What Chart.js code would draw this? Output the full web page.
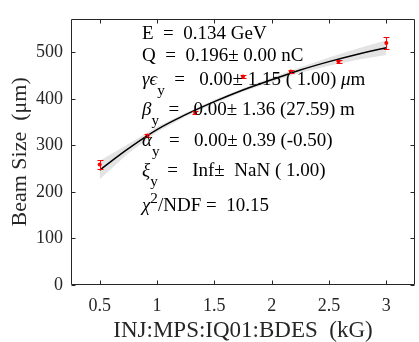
<!DOCTYPE html>
<html>
<head>
<meta charset="utf-8">
<script src="https://cdn.jsdelivr.net/npm/chart.js@4/dist/chart.umd.min.js"></script>
<style>
  html, body { margin: 0; padding: 0; background: #fff; }
</style>
</head>
<body>
<canvas id="quadScan" width="419" height="342"></canvas>
<script>
// measured beam size vs quad setting
const bdes = [0.5, 0.917, 1.333, 1.75, 2.167, 2.583, 3.0];
const beamSize = [259, 321, 370, 448, 459, 481, 520];
const beamErr = [10, 3, 3, 4, 3, 3, 12];

// fit curve and its confidence band
const fitX = [0.5, 0.75, 1.0, 1.25, 1.5, 1.75, 2.0, 2.25, 2.5, 2.75, 3.0];
const fitY = [247, 293, 334, 366, 394, 419, 441, 462, 480, 496, 510];
const bandLo = [227, 283, 328, 362, 390, 415, 436, 456, 471, 484, 494];
const bandHi = [267, 303, 340, 370, 398, 423, 446, 468, 489, 508, 526];

const xTicks = [0.5, 1, 1.5, 2, 2.5, 3];
const yTicks = [0, 100, 200, 300, 400, 500];

// fit results, TeX-ish: _{} subscript, ^{} superscript
const fitText = [
  'E  =  0.134 GeV',
  'Q  =  0.196± 0.00 nC',
  'γϵ_{y}  =   0.00± 1.15 ( 1.00) μm',
  'β_{y}  =   0.00± 1.36 (27.59) m',
  'α_{y}  =   0.00± 0.39 (-0.50)',
  'ξ_{y}  =   Inf±  NaN ( 1.00)',
  'χ^{2}/NDF =  10.15',
];

const SERIF = '"Liberation Serif", "Times New Roman", serif';
const AXIS = '#262626';

const pts = (xs, ys) => xs.map((k, i) => ({ x: k, y: ys[i] }));

// draw one line of the fit box, handling sub/superscripts and greek italics
function drawRich(ctx, str, x, y, size) {
  const re = /([_^])\{([^}]*)\}/g;
  const parts = [];
  let last = 0, m;
  while ((m = re.exec(str))) {
    if (m.index > last) parts.push({ t: str.slice(last, m.index), s: 0 });
    parts.push({ t: m[2], s: m[1] === '_' ? 1 : -1 });
    last = re.lastIndex;
  }
  if (last < str.length) parts.push({ t: str.slice(last), s: 0 });
  parts.forEach(p => {
    const sz = p.s ? size * 0.8 : size;
    const dy = p.s === 1 ? size * 0.5 : p.s === -1 ? -size * 0.42 : 0;
    for (const ch of p.t) {
      const greek = /[\u0370-\u03ff]/.test(ch);
      ctx.font = (greek ? 'italic ' : '') + sz + 'px ' + SERIF;
      ctx.fillText(ch, x, y + dy);
      x += ctx.measureText(ch).width;
    }
  });
}

const errorBars = {
  id: 'errorBars',
  afterDatasetsDraw(chart) {
    const { ctx, scales: { x, y } } = chart;
    ctx.save();
    ctx.strokeStyle = '#ff0000';
    ctx.lineWidth = 1;
    bdes.forEach((k, i) => {
      const px = Math.round(x.getPixelForValue(k)) + 0.5;
      const top = Math.round(y.getPixelForValue(beamSize[i] + beamErr[i])) + 0.5;
      const bot = Math.round(y.getPixelForValue(beamSize[i] - beamErr[i])) + 0.5;
      ctx.beginPath();
      ctx.moveTo(px, top); ctx.lineTo(px, bot);
      ctx.moveTo(px - 3, top); ctx.lineTo(px + 3, top);
      ctx.moveTo(px - 3, bot); ctx.lineTo(px + 3, bot);
      ctx.stroke();
    });
    ctx.restore();
  }
};

// matlab style box with inward ticks, plus the fit text
const boxAndText = {
  id: 'boxAndText',
  afterDraw(chart) {
    const { ctx, chartArea: a, scales: { x, y } } = chart;
    ctx.save();
    ctx.strokeStyle = AXIS;
    ctx.lineWidth = 1;
    const L = Math.round(a.left) + 0.5, R = Math.round(a.right) - 0.5;
    const T = Math.round(a.top) + 0.5, B = Math.round(a.bottom) - 0.5;
    ctx.beginPath();
    ctx.rect(L, T, R - L, B - T);
    x.ticks.forEach(t => {
      const px = Math.round(x.getPixelForValue(t.value)) + 0.5;
      ctx.moveTo(px, B); ctx.lineTo(px, B - 4);
      ctx.moveTo(px, T); ctx.lineTo(px, T + 4);
    });
    y.ticks.forEach(t => {
      const py = Math.round(y.getPixelForValue(t.value)) + 0.5;
      ctx.moveTo(L, py); ctx.lineTo(L + 4, py);
      ctx.moveTo(R, py); ctx.lineTo(R - 4, py);
    });
    ctx.stroke();

    ctx.fillStyle = '#000';
    ctx.textBaseline = 'alphabetic';
    ctx.textAlign = 'left';
    const baselines = [39, 61, 85, 115, 146, 176, 211];
    fitText.forEach((s, i) => drawRich(ctx, s, 142, baselines[i], 19));
    ctx.restore();
  }
};

new Chart(document.getElementById('quadScan'), {
  data: {
    datasets: [
      {
        type: 'line',
        data: pts(fitX, bandLo),
        borderWidth: 0,
        pointRadius: 0,
        fill: false,
      },
      {
        type: 'line',
        data: pts(fitX, bandHi),
        borderWidth: 0,
        pointRadius: 0,
        backgroundColor: 'rgba(0, 0, 0, 0.11)',
        fill: '-1',
      },
      {
        type: 'line',
        data: pts(fitX, fitY),
        borderColor: '#000',
        borderWidth: 1.5,
        pointRadius: 0,
        tension: 0.4,
        fill: false,
      },
      {
        type: 'scatter',
        data: pts(bdes, beamSize),
        backgroundColor: '#ff0000',
        borderWidth: 0,
        pointRadius: 2,
      },
    ],
  },
  options: {
    responsive: false,
    animation: false,
    devicePixelRatio: 1,
    layout: { padding: { top: 7, right: -2, left: 0, bottom: 0 } },
    plugins: { legend: { display: false }, tooltip: { enabled: false } },
    scales: {
      x: {
        type: 'linear',
        min: 0.25,
        max: 3.25,
        afterBuildTicks: s => { s.ticks = xTicks.map(v => ({ value: v })); },
        afterFit: s => { s.height = 57; },
        grid: { display: false, drawTicks: false },
        border: { display: false },
        ticks: {
          color: AXIS,
          padding: 10,
          font: { family: SERIF, size: 18 },
          maxRotation: 0,
          autoSkip: false,
          callback: v => String(v),
        },
        title: {
          display: true,
          text: 'INJ:MPS:IQ01:BDES  (kG)',
          color: AXIS,
          font: { family: SERIF, size: 23, lineHeight: 1 },
          padding: { top: 0, bottom: 0 },
        },
      },
      y: {
        type: 'linear',
        min: 0,
        max: 572,
        afterBuildTicks: s => { s.ticks = yTicks.map(v => ({ value: v })); },
        afterFit: s => { s.width = 71; },
        grid: { display: false, drawTicks: false },
        border: { display: false },
        ticks: {
          color: AXIS,
          padding: 8,
          font: { family: SERIF, size: 18 },
          callback: v => String(v),
        },
        title: {
          display: true,
          text: 'Beam Size  (μm)',
          color: AXIS,
          font: { family: SERIF, size: 22, lineHeight: 1 },
          padding: { top: 9, bottom: 0 },
        },
      },
    },
  },
  plugins: [errorBars, boxAndText],
});
</script>
</body>
</html>
